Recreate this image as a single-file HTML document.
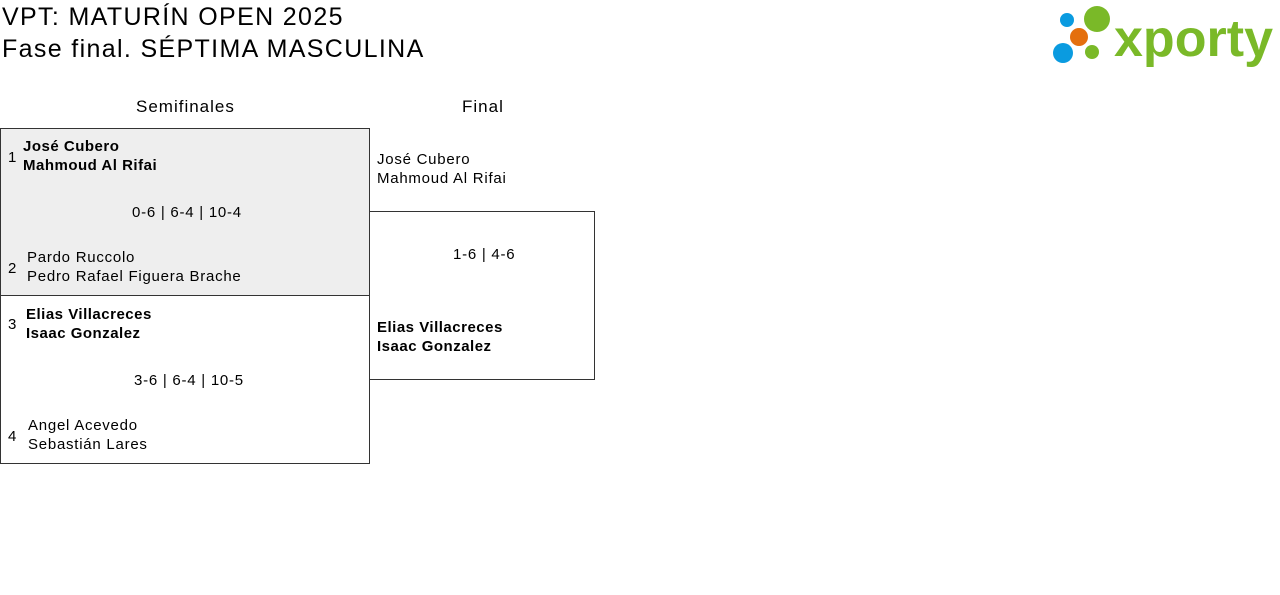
<!DOCTYPE html>
<html><head><meta charset="utf-8"><style>
body{margin:0;width:1280px;height:595px;background:#fff;font-family:"Liberation Sans",sans-serif;color:#000;position:relative;overflow:hidden}
.a{position:absolute;white-space:nowrap}
.t{font-size:25px;left:2px;letter-spacing:1.35px}
.s{font-size:15px;line-height:19px;letter-spacing:0.75px}
.b{font-weight:bold;letter-spacing:0.5px}
.box{position:absolute;border:1px solid #333;box-sizing:border-box}
</style></head><body>
<div class="a t" style="top:3px">VPT: MATURÍN OPEN 2025</div>
<div class="a t" style="top:35px">Fase final. SÉPTIMA MASCULINA</div>
<svg class="a" style="left:1040px;top:0" width="240" height="70">
<circle cx="27" cy="20" r="7" fill="#0a9be0"/>
<circle cx="57" cy="19" r="13" fill="#7ab928"/>
<circle cx="39" cy="37" r="9" fill="#e46f0e"/>
<circle cx="23" cy="53" r="10" fill="#0a9be0"/>
<circle cx="52" cy="52" r="7" fill="#7ab928"/>
<text x="74" y="56" font-family="Liberation Sans" font-weight="bold" font-size="52" fill="#7ab928" textLength="159">xporty</text>
</svg>
<div class="a s" style="left:136px;top:97px;font-size:17px;letter-spacing:1px">Semifinales</div>
<div class="a s" style="left:462px;top:97px;font-size:17px;letter-spacing:1px">Final</div>
<div class="box" style="left:0;top:128px;width:370px;height:168px;background:#eee"></div>
<div class="box" style="left:0;top:295px;width:370px;height:169px"></div>
<div class="box" style="left:369px;top:211px;width:226px;height:169px"></div>
<div class="a s" style="left:8px;top:148px">1</div>
<div class="a s b" style="left:23px;top:137px">José Cubero<br>Mahmoud Al Rifai</div>
<div class="a s" style="left:132px;top:203px">0-6 | 6-4 | 10-4</div>
<div class="a s" style="left:8px;top:259px">2</div>
<div class="a s" style="left:27px;top:248px">Pardo Ruccolo<br>Pedro Rafael Figuera Brache</div>
<div class="a s" style="left:8px;top:315px">3</div>
<div class="a s b" style="left:26px;top:305px">Elias Villacreces<br>Isaac Gonzalez</div>
<div class="a s" style="left:134px;top:371px">3-6 | 6-4 | 10-5</div>
<div class="a s" style="left:8px;top:427px">4</div>
<div class="a s" style="left:28px;top:416px">Angel Acevedo<br>Sebastián Lares</div>
<div class="a s" style="left:377px;top:150px">José Cubero<br>Mahmoud Al Rifai</div>
<div class="a s" style="left:453px;top:245px">1-6 | 4-6</div>
<div class="a s b" style="left:377px;top:318px">Elias Villacreces<br>Isaac Gonzalez</div>
</body></html>
